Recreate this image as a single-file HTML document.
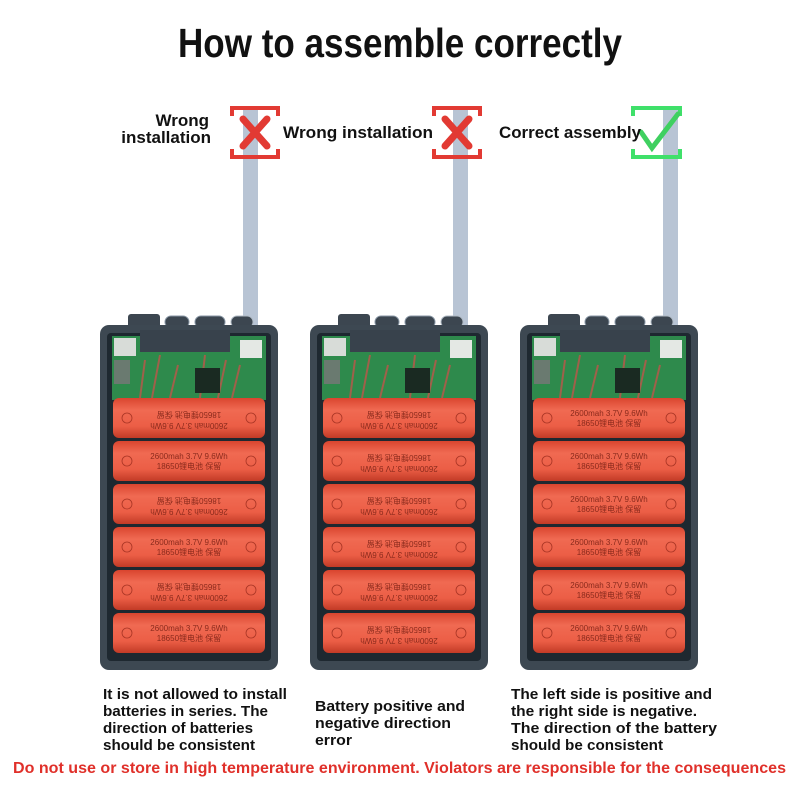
<!DOCTYPE html>
<html><head><meta charset="utf-8"><style>
html,body{margin:0;padding:0;background:#fff}
svg{display:block;font-family:"Liberation Sans",sans-serif}
</style></head><body>
<svg width="800" height="800" viewBox="0 0 800 800" xmlns="http://www.w3.org/2000/svg">
<defs>
<linearGradient id="bat" x1="0" y1="0" x2="0" y2="1">
<stop offset="0" stop-color="#d9452f"/><stop offset="0.3" stop-color="#f06a52"/><stop offset="0.7" stop-color="#ec5e46"/><stop offset="1" stop-color="#c23a26"/>
</linearGradient>
<g id="panel">
<rect x="243" y="110" width="15" height="215" fill="#b8c4d4"/>
<rect x="128" y="314" width="32" height="16" rx="3" fill="#3c4650"/>
<rect x="165" y="316" width="24" height="12" rx="6" fill="#3c4650" stroke="#8896a4"/>
<rect x="195" y="316" width="30" height="12" rx="6" fill="#3c4650" stroke="#8896a4"/>
<rect x="231" y="316" width="22" height="12" rx="6" fill="#3c4650" stroke="#b0bac4"/>
<rect x="100" y="325" width="178" height="345" rx="9" fill="#3d4852"/>
<rect x="107" y="333" width="164" height="328" rx="4" fill="#1e2830"/>
<rect x="112" y="336" width="154" height="64" fill="#2e8a4c"/>
<rect x="114" y="338" width="22" height="18" fill="#d8dcd8"/>
<rect x="114" y="360" width="16" height="24" fill="#6a7a70"/>
<rect x="240" y="340" width="22" height="18" fill="#e4e8e4"/>
<rect x="140" y="330" width="90" height="22" fill="#38424c"/>
<g stroke="#a0604a" stroke-width="2"><line x1="145" y1="360" x2="140" y2="398"/><line x1="160" y1="355" x2="152" y2="398"/><line x1="178" y1="365" x2="170" y2="398"/><line x1="205" y1="355" x2="200" y2="398"/><line x1="226" y1="360" x2="218" y2="398"/><line x1="240" y1="365" x2="232" y2="398"/></g>
<rect x="195" y="368" width="25" height="25" fill="#1a2a22"/>
</g>
<g id="b">
<rect x="113" y="0" width="152" height="40" rx="6" fill="url(#bat)"/>
<circle cx="127" cy="20" r="5" fill="none" stroke="#a83424" stroke-width="0.8"/>
<circle cx="251" cy="20" r="5" fill="none" stroke="#a83424" stroke-width="0.8"/>
</g>
</defs>

<text x="400" y="57" text-anchor="middle" font-size="41" font-weight="bold" fill="#111" textLength="444" lengthAdjust="spacingAndGlyphs">How to assemble correctly</text>

<use href="#panel"/>
<use href="#panel" x="210"/>
<use href="#panel" x="420"/>

<g font-size="8" fill="#8a2a1c" text-anchor="middle">
<g transform="translate(0,398)"><use href="#b"/><text x="189" y="15" transform="rotate(180 189 20)">2600mah 3.7V 9.6Wh</text><text x="189" y="26" transform="rotate(180 189 20)">18650锂电池 保留</text></g>
<g transform="translate(0,441)"><use href="#b"/><text x="189" y="18">2600mah 3.7V 9.6Wh</text><text x="189" y="28">18650锂电池 保留</text></g>
<g transform="translate(0,484)"><use href="#b"/><text x="189" y="15" transform="rotate(180 189 20)">2600mah 3.7V 9.6Wh</text><text x="189" y="26" transform="rotate(180 189 20)">18650锂电池 保留</text></g>
<g transform="translate(0,527)"><use href="#b"/><text x="189" y="18">2600mah 3.7V 9.6Wh</text><text x="189" y="28">18650锂电池 保留</text></g>
<g transform="translate(0,570)"><use href="#b"/><text x="189" y="15" transform="rotate(180 189 20)">2600mah 3.7V 9.6Wh</text><text x="189" y="26" transform="rotate(180 189 20)">18650锂电池 保留</text></g>
<g transform="translate(0,613)"><use href="#b"/><text x="189" y="18">2600mah 3.7V 9.6Wh</text><text x="189" y="28">18650锂电池 保留</text></g>

<g transform="translate(210,398)"><use href="#b"/><text x="189" y="15" transform="rotate(180 189 20)">2600mah 3.7V 9.6Wh</text><text x="189" y="26" transform="rotate(180 189 20)">18650锂电池 保留</text></g>
<g transform="translate(210,441)"><use href="#b"/><text x="189" y="15" transform="rotate(180 189 20)">2600mah 3.7V 9.6Wh</text><text x="189" y="26" transform="rotate(180 189 20)">18650锂电池 保留</text></g>
<g transform="translate(210,484)"><use href="#b"/><text x="189" y="15" transform="rotate(180 189 20)">2600mah 3.7V 9.6Wh</text><text x="189" y="26" transform="rotate(180 189 20)">18650锂电池 保留</text></g>
<g transform="translate(210,527)"><use href="#b"/><text x="189" y="15" transform="rotate(180 189 20)">2600mah 3.7V 9.6Wh</text><text x="189" y="26" transform="rotate(180 189 20)">18650锂电池 保留</text></g>
<g transform="translate(210,570)"><use href="#b"/><text x="189" y="15" transform="rotate(180 189 20)">2600mah 3.7V 9.6Wh</text><text x="189" y="26" transform="rotate(180 189 20)">18650锂电池 保留</text></g>
<g transform="translate(210,613)"><use href="#b"/><text x="189" y="15" transform="rotate(180 189 20)">2600mah 3.7V 9.6Wh</text><text x="189" y="26" transform="rotate(180 189 20)">18650锂电池 保留</text></g>

<g transform="translate(420,398)"><use href="#b"/><text x="189" y="18">2600mah 3.7V 9.6Wh</text><text x="189" y="28">18650锂电池 保留</text></g>
<g transform="translate(420,441)"><use href="#b"/><text x="189" y="18">2600mah 3.7V 9.6Wh</text><text x="189" y="28">18650锂电池 保留</text></g>
<g transform="translate(420,484)"><use href="#b"/><text x="189" y="18">2600mah 3.7V 9.6Wh</text><text x="189" y="28">18650锂电池 保留</text></g>
<g transform="translate(420,527)"><use href="#b"/><text x="189" y="18">2600mah 3.7V 9.6Wh</text><text x="189" y="28">18650锂电池 保留</text></g>
<g transform="translate(420,570)"><use href="#b"/><text x="189" y="18">2600mah 3.7V 9.6Wh</text><text x="189" y="28">18650锂电池 保留</text></g>
<g transform="translate(420,613)"><use href="#b"/><text x="189" y="18">2600mah 3.7V 9.6Wh</text><text x="189" y="28">18650锂电池 保留</text></g>
</g>

<g fill="none" stroke="#e23a33" stroke-width="4">
<path d="M232 116 V108 H278 V116 M232 149 V157 H278 V149"/>
<path d="M434 116 V108 H480 V116 M434 149 V157 H480 V149"/>
</g>
<g stroke="#e23a33" stroke-width="7" stroke-linecap="round">
<path d="M243 119 L267 146 M267 119 L243 146"/>
<path d="M445 119 L469 146 M469 119 L445 146"/>
</g>
<path d="M633 116 V108 H680 V116 M633 149 V157 H680 V149" fill="none" stroke="#3fe06a" stroke-width="4"/>
<path d="M641 132 L652 148 L678 114" fill="none" stroke="#3fd060" stroke-width="5" stroke-linecap="round"/>

<g font-size="17" font-weight="bold" fill="#111">
<text x="209" y="126" text-anchor="end">Wrong</text>
<text x="211" y="143" text-anchor="end">installation</text>
<text x="283" y="138" textLength="150" lengthAdjust="spacingAndGlyphs">Wrong installation</text>
<text x="499" y="138" textLength="142" lengthAdjust="spacingAndGlyphs">Correct assembly</text>
</g>

<g font-size="15" font-weight="bold" fill="#111" lengthAdjust="spacingAndGlyphs">
<text x="103" y="699" textLength="184" lengthAdjust="spacingAndGlyphs">It is not allowed to install</text>
<text x="103" y="716" textLength="165" lengthAdjust="spacingAndGlyphs">batteries in series. The</text>
<text x="103" y="733" textLength="150" lengthAdjust="spacingAndGlyphs">direction of batteries</text>
<text x="103" y="750" textLength="152" lengthAdjust="spacingAndGlyphs">should be consistent</text>
<text x="315" y="711" textLength="150" lengthAdjust="spacingAndGlyphs">Battery positive and</text>
<text x="315" y="728" textLength="136" lengthAdjust="spacingAndGlyphs">negative direction</text>
<text x="315" y="745" textLength="37" lengthAdjust="spacingAndGlyphs">error</text>
<text x="511" y="699" textLength="201" lengthAdjust="spacingAndGlyphs">The left side is positive and</text>
<text x="511" y="716" textLength="186" lengthAdjust="spacingAndGlyphs">the right side is negative.</text>
<text x="511" y="733" textLength="206" lengthAdjust="spacingAndGlyphs">The direction of the battery</text>
<text x="511" y="750" textLength="152" lengthAdjust="spacingAndGlyphs">should be consistent</text>
</g>
<text x="13" y="773" font-size="16" font-weight="bold" fill="#e0302a" textLength="773" lengthAdjust="spacingAndGlyphs">Do not use or store in high temperature environment. Violators are responsible for the consequences</text>
</svg>
</body></html>
